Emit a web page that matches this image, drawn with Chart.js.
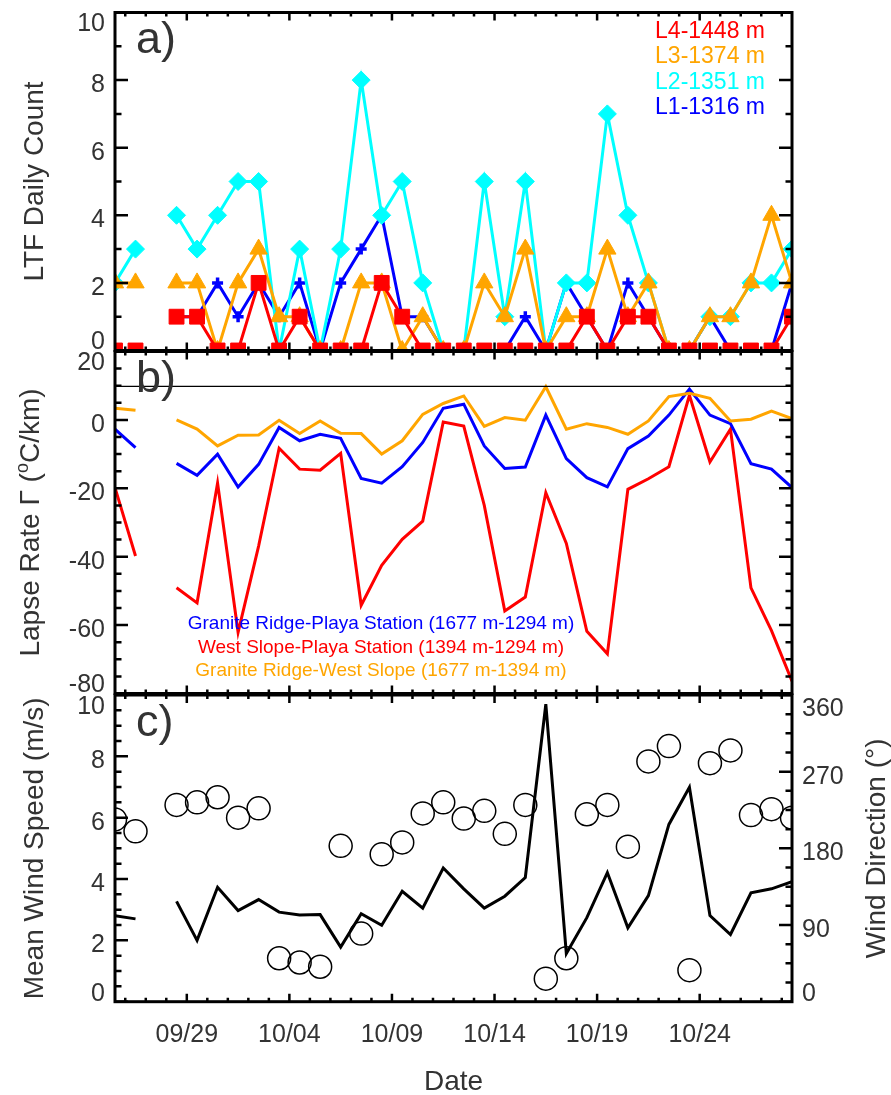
<!DOCTYPE html>
<html>
<head>
<meta charset="utf-8">
<title>LTF counts, lapse rates and wind</title>
<script src="https://cdn.jsdelivr.net/npm/chart.js@4"></script>
<style>
  html, body { margin: 0; padding: 0; background: #fff; }
  #wrap { position: relative; width: 891px; height: 1095px; overflow: hidden; }
  #wrap canvas { position: absolute; left: 0; }
</style>
</head>
<body>
<div id="wrap">
  <canvas id="panelA" width="891" height="362" style="top:0px"></canvas>
  <canvas id="panelB" width="891" height="365" style="top:340px"></canvas>
  <canvas id="panelC" width="891" height="413" style="top:682px"></canvas>
</div>
<script>
// one value per day, 09/25 .. 10/28 (null = missing day)
const dates = ['09/25', '09/26', '09/27', '09/28', '09/29', '09/30',
  '10/01', '10/02', '10/03', '10/04', '10/05', '10/06', '10/07', '10/08', '10/09', '10/10',
  '10/11', '10/12', '10/13', '10/14', '10/15', '10/16', '10/17', '10/18', '10/19', '10/20',
  '10/21', '10/22', '10/23', '10/24', '10/25', '10/26', '10/27', '10/28'];
const tickDates = ['09/29', '10/04', '10/09', '10/14', '10/19', '10/24'];

// a) LTF daily count per level
const ltfL4 = [0, 0, null, 1, 1, 0, 0, 2, 0, 1, 0, 0, 0, 2, 1, 0, 0, 0, 0, 0, 0, 0, 0, 1, 0, 1, 1, 0, 0, 0, 0, 0, 0, 1];
const ltfL3 = [2, 2, null, 2, 2, 0, 2, 3, 1, 1, 0, 0, 2, 2, 0, 1, 0, 0, 2, 1, 3, 0, 1, 1, 3, 1, 2, 0, 0, 1, 1, 2, 4, 2];
const ltfL2 = [2, 3, null, 4, 3, 4, 5, 5, 0, 3, 0, 3, 8, 4, 5, 2, 0, 0, 5, 1, 5, 0, 2, 2, 7, 4, 2, 0, 0, 1, 1, 2, 2, 3];
const ltfL1 = [0, 0, null, 1, 1, 2, 1, 2, 1, 2, 0, 2, 3, 4, 1, 1, 0, 0, 0, 0, 1, 0, 2, 1, 0, 2, 1, 0, 0, 1, 0, 0, 0, 2];
const ltfNames = ['L4-1448 m', 'L3-1374 m', 'L2-1351 m', 'L1-1316 m'];

// b) lapse rate (degC/km)
const lapseGRPS = [-2.7, -8.1, null, -12.7, -16.2, -10, -19.6, -13, -2.2, -6.1, -4.2, -5.4, -17.1, -18.5, -13.7, -6.6, 3.4,
  4.6, -7.6, -14.2, -13.8, 1.4, -11.3, -16.9, -19.6, -8.4, -4.7, 1.4, 9, 1.4, -1.1, -12.8, -14.4, -19.8];
const lapseWSPS = [-19.8, -39.8, null, -49.1, -53.5, -18.5, -62.1, -36.9, -8.3, -14.4, -14.7, -9.8, -54.2, -42.5, -34.9,
  -29.6, -0.6, -1.8, -25, -55.9, -51.8, -21.3, -36.1, -61.8, -68.4, -20.3, -17.2, -13.7, 7.2, -12.3, -2.7, -49.1, -61.6, -76.4];
const lapseGRWS = [3.4, 2.8, null, 0, -2.7, -7.6, -4.5, -4.4, -0.1, -4, -0.3, -3.9, -4, -10, -6.1, 1.6, 4.8, 7, -1.9, 0.7,
  -0.1, 9.7, -2.7, -1.1, -2.2, -4.2, -0.3, 6.8, 7.8, 6.3, -0.3, 0.2, 2.6, 0.4];
const lapseNames = ['Granite Ridge-Playa Station (1677 m-1294 m)', 'West Slope-Playa Station (1394 m-1294 m)',
  'Granite Ridge-West Slope (1677 m-1394 m)'];
const dryAdiabat = 9.8;

// c) mean wind speed (m/s) and wind direction (deg)
const windSpeed = [2.8, 2.7, null, 3.27, 2.0, 3.73, 2.97, 3.33, 2.92, 2.83, 2.84, 1.78, 2.87, 2.49, 3.6, 3.05, 4.36, 3.68,
  3.05, 3.44, 4.05, 9.7, 1.57, 2.74, 4.21, 2.41, 3.46, 5.78, 6.99, 2.81, 2.19, 3.55, 3.68, 3.91];
const windDir = [214, 200, null, 231, 234, 240, 216, 227, 51, 46, 41, 183, 80, 173, 187, 221, 234, 215, 224, 197, 231, 27,
  51, 220, 231, 182, 282, 300, 37, 280, 295, 219, 226, 216];

const FONT = "'Liberation Sans', Arial, Helvetica, sans-serif";
const TEXT = '#333';
const RED = '#ff0000', ORANGE = '#ffa500', CYAN = '#00ffff', BLUE = '#0000ff';

function clamp(v, lo, hi) { return Math.max(lo, Math.min(hi, v)); }
function onStep(v, step) { const r = v / step; return Math.abs(r - Math.round(r)) < 1e-6; }

function series(values, color, extra) {
  return Object.assign({
    data: values.map((v, i) => ({ x: i, y: v })),
    borderColor: color,
    backgroundColor: color,
    borderWidth: 3,
    pointRadius: 0,
    tension: 0,
    spanGaps: false,
    clip: 0
  }, extra || {});
}

function baseOptions(pad, y, extraScales) {
  return {
    responsive: false,
    animation: false,
    events: [],
    layout: { padding: pad },
    plugins: { legend: { display: false }, tooltip: { enabled: false } },
    scales: Object.assign({
      x: { type: 'linear', min: 0, max: dates.length - 1, display: false },
      y: Object.assign({ type: 'linear', display: false }, y)
    }, extraScales || {})
  };
}

// rotated (bottom-to-top) text, x is the baseline
function vText(ctx, parts, x, y) {
  ctx.save();
  ctx.translate(x, y);
  ctx.rotate(-Math.PI / 2);
  ctx.textBaseline = 'alphabetic';
  ctx.textAlign = 'left';
  let total = 0;
  parts.forEach(p => { ctx.font = p.font; p.w = ctx.measureText(p.t).width; total += p.w; });
  let cx = -total / 2;
  parts.forEach(p => { ctx.font = p.font; ctx.fillText(p.t, cx, p.dy || 0); cx += p.w; });
  ctx.restore();
}

// IDL style box: inward ticks on all four sides, labels drawn from the chart scales
function idlFrame(cfg) {
  return {
    id: 'idlFrame',
    afterDatasetsDraw(chart) {
      const ctx = chart.ctx, a = chart.chartArea;
      const xs = chart.scales.x, ys = chart.scales.y;
      const rs = cfg.right ? chart.scales.y2 : ys;
      const rcfg = cfg.right || cfg.left;
      ctx.save();
      ctx.strokeStyle = '#000';
      ctx.lineWidth = 2.5;
      ctx.beginPath();
      for (let k = 0; k < dates.length - 1; k++) {
        const px = xs.getPixelForValue(k + 0.5);
        const len = tickDates.includes(dates[k + 1]) ? 8 : 4;
        ctx.moveTo(px, a.top); ctx.lineTo(px, a.top + len);
        ctx.moveTo(px, a.bottom); ctx.lineTo(px, a.bottom - len);
      }
      for (let v = ys.min; v <= ys.max + 1e-6; v += cfg.left.minor) {
        const py = ys.getPixelForValue(v);
        const len = onStep(v, cfg.left.major) ? 13 : 6.5;
        ctx.moveTo(a.left, py); ctx.lineTo(a.left + len, py);
      }
      for (let v = rs.min; v <= rs.max + 1e-6; v += rcfg.minor) {
        const py = rs.getPixelForValue(v);
        const len = onStep(v, rcfg.major) ? 13 : 6.5;
        ctx.moveTo(a.right, py); ctx.lineTo(a.right - len, py);
      }
      ctx.stroke();
      ctx.lineWidth = 3;
      ctx.strokeRect(a.left, a.top, a.right - a.left, a.bottom - a.top);

      ctx.fillStyle = TEXT;
      ctx.font = '25px ' + FONT;
      ctx.textBaseline = 'middle';
      ctx.textAlign = 'right';
      for (let v = ys.min; v <= ys.max + 1e-6; v += cfg.left.major) {
        const py = clamp(ys.getPixelForValue(v) + 5, a.top + 12, a.bottom - 8);
        ctx.fillText(String(Math.round(v)), a.left - 10, py);
      }
      if (cfg.right) {
        ctx.textAlign = 'left';
        for (let v = rs.min; v <= rs.max + 1e-6; v += rcfg.major) {
          const py = clamp(rs.getPixelForValue(v) + 5, a.top + 14, a.bottom - 8);
          ctx.fillText(String(Math.round(v)), a.right + 10, py);
        }
      }
      // panel letter
      ctx.textAlign = 'left';
      ctx.textBaseline = 'alphabetic';
      ctx.font = '45px ' + FONT;
      ctx.fillText(cfg.letter, a.left + 21, a.top + 40.5);
      if (cfg.extra) cfg.extra(ctx, a, chart);
      ctx.restore();
    }
  };
}

// ---------- a) ----------
new Chart(document.getElementById('panelA'), {
  type: 'line',
  data: {
    datasets: [
      series(ltfL4, RED, { pointStyle: 'rect', pointRadius: 10.5, pointBorderWidth: 1 }),
      series(ltfL3, ORANGE, { pointStyle: 'triangle', pointRadius: 10, pointBorderWidth: 1 }),
      series(ltfL2, CYAN, { pointStyle: 'rectRot', pointRadius: 9, pointBorderWidth: 1 }),
      series(ltfL1, BLUE, { pointStyle: 'cross', pointRadius: 5.5, pointBorderWidth: 3.5 })
    ]
  },
  options: baseOptions({ left: 115, right: 99, top: 12.5, bottom: 10.5 }, { min: 0, max: 10 }),
  plugins: [idlFrame({
    letter: 'a)',
    left: { major: 2, minor: 1 },
    extra(ctx, a) {
      ctx.fillStyle = TEXT;
      vText(ctx, [{ t: 'LTF Daily Count', font: '28px ' + FONT }], 43, (a.top + a.bottom) / 2);
      const cols = [RED, ORANGE, CYAN, BLUE];
      ctx.font = '23px ' + FONT;
      ctx.textAlign = 'right';
      ltfNames.forEach((n, i) => {
        ctx.fillStyle = cols[i];
        ctx.fillText(n, 765, 37.5 + i * 25.5);
      });
    }
  })]
});

// ---------- b) ----------
new Chart(document.getElementById('panelB'), {
  type: 'line',
  data: {
    datasets: [
      series([0, dates.length - 1].map(() => dryAdiabat), '#000', {
        data: [{ x: 0, y: dryAdiabat }, { x: dates.length - 1, y: dryAdiabat }], borderWidth: 1.3
      }),
      series(lapseGRWS, ORANGE),
      series(lapseGRPS, BLUE),
      series(lapseWSPS, RED)
    ]
  },
  options: baseOptions({ left: 115, right: 99, top: 11.5, bottom: 11.5 }, { min: -80, max: 20 }),
  plugins: [idlFrame({
    letter: 'b)',
    left: { major: 20, minor: 5 },
    extra(ctx, a) {
      ctx.fillStyle = TEXT;
      const f = '28px ' + FONT;
      vText(ctx, [
        { t: 'Lapse Rate \u0393 (', font: f },
        { t: 'o', font: '18px ' + FONT, dy: -11 },
        { t: 'C/km)', font: f }
      ], 39, (a.top + a.bottom) / 2);
      const cols = [BLUE, RED, ORANGE];
      ctx.font = '19px ' + FONT;
      ctx.textAlign = 'center';
      lapseNames.forEach((n, i) => {
        ctx.fillStyle = cols[i];
        ctx.fillText(n, 381, 289 + i * 23.7);
      });
    }
  })]
});

// ---------- c) ----------
new Chart(document.getElementById('panelC'), {
  type: 'line',
  data: {
    datasets: [
      series(windSpeed, '#000'),
      series(windDir, '#000', {
        yAxisID: 'y2', showLine: false, pointStyle: 'circle', pointRadius: 11.5,
        pointBorderWidth: 1.5, pointBackgroundColor: 'rgba(0,0,0,0)', pointBorderColor: '#000'
      })
    ]
  },
  options: baseOptions({ left: 115, right: 99, top: 11.5, bottom: 93.3 }, { min: 0, max: 10 },
    { y2: { type: 'linear', position: 'right', min: 0, max: 360, display: false } }),
  plugins: [idlFrame({
    letter: 'c)',
    left: { major: 2, minor: 0.5 },
    right: { major: 90, minor: 22.5 },
    extra(ctx, a, chart) {
      ctx.fillStyle = TEXT;
      const f = '28px ' + FONT;
      const mid = (a.top + a.bottom) / 2;
      vText(ctx, [{ t: 'Mean Wind Speed (m/s)', font: f }], 43, mid);
      vText(ctx, [{ t: 'Wind Direction (\u00b0)', font: f }], 885, mid);
      const xs = chart.scales.x;
      ctx.font = '25px ' + FONT;
      ctx.textAlign = 'center';
      ctx.textBaseline = 'middle';
      tickDates.forEach(d => {
        ctx.fillText(d, xs.getPixelForValue(dates.indexOf(d) - 0.5), 353);
      });
      ctx.font = f;
      ctx.fillText('Date', (a.left + a.right) / 2, 400);
    }
  })]
});
</script>
</body>
</html>
